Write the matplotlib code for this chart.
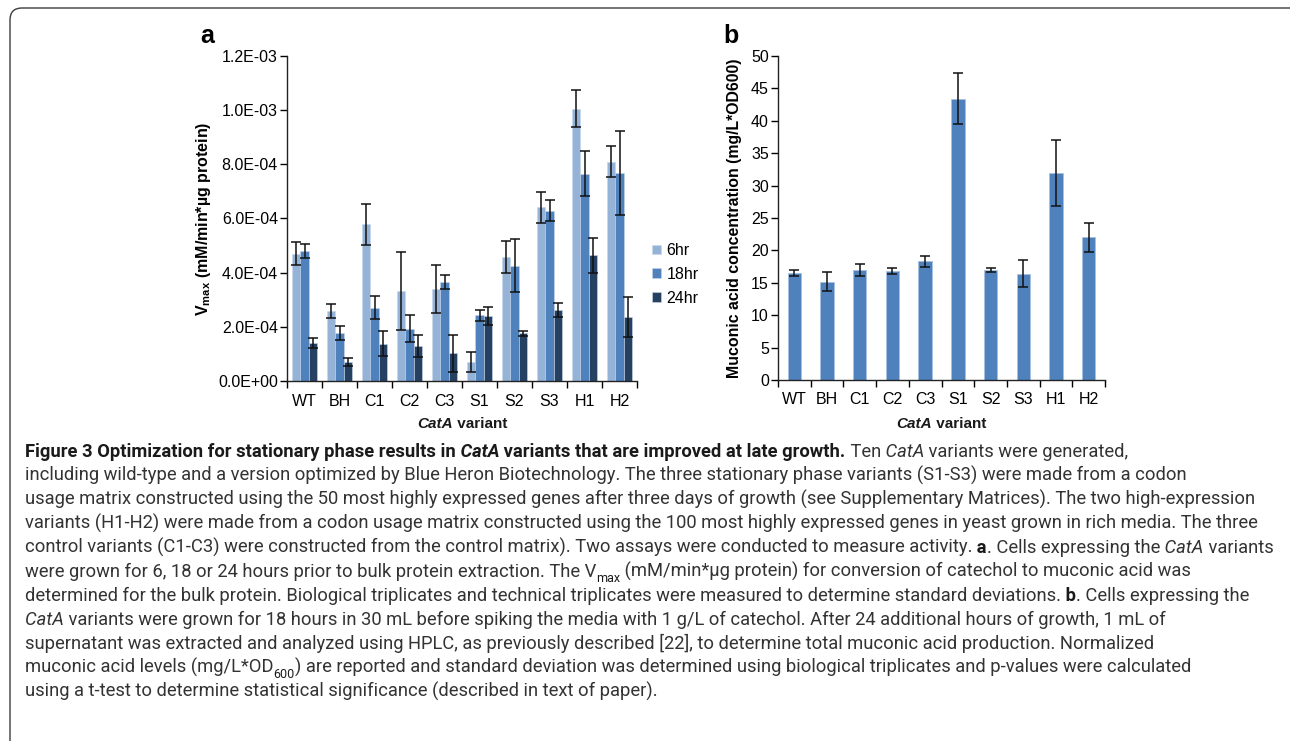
from __future__ import annotations

import matplotlib

matplotlib.use("Agg")
import matplotlib.pyplot as plt
import numpy as np
from matplotlib.font_manager import fontManager
from matplotlib.patches import FancyBboxPatch
from matplotlib.ticker import FixedLocator, FuncFormatter, MultipleLocator

W, H = 1290, 741

variants = ["WT", "BH", "C1", "C2", "C3", "S1", "S2", "S3", "H1", "H2"]
series = ["6hr", "18hr", "24hr"]
vmax_6hr = [4.70e-4, 2.58e-4, 5.78e-4, 3.31e-4, 3.41e-4, 0.70e-4, 4.57e-4, 6.41e-4, 10.06e-4, 8.10e-4]
err_6hr = [0.43e-4, 0.27e-4, 0.75e-4, 1.44e-4, 0.89e-4, 0.37e-4, 0.60e-4, 0.58e-4, 0.70e-4, 0.57e-4]
vmax_18hr = [4.80e-4, 1.77e-4, 2.71e-4, 1.93e-4, 3.66e-4, 2.42e-4, 4.25e-4, 6.29e-4, 7.66e-4, 7.68e-4]
err_18hr = [0.26e-4, 0.26e-4, 0.43e-4, 0.49e-4, 0.26e-4, 0.22e-4, 0.98e-4, 0.38e-4, 0.84e-4, 1.54e-4]
vmax_24hr = [1.40e-4, 0.69e-4, 1.38e-4, 1.28e-4, 1.03e-4, 2.39e-4, 1.76e-4, 2.61e-4, 4.64e-4, 2.36e-4]
err_24hr = [0.18e-4, 0.15e-4, 0.47e-4, 0.41e-4, 0.68e-4, 0.34e-4, 0.10e-4, 0.26e-4, 0.64e-4, 0.74e-4]
muconic = [16.5, 15.2, 17.0, 16.8, 18.3, 43.4, 17.0, 16.4, 31.9, 22.0]
muconic_err = [0.5, 1.5, 0.9, 0.5, 0.9, 3.9, 0.3, 2.1, 5.1, 2.3]

# caption, one list of (text, style) per printed line; spaces kept leading
caption = [
    [("Figure 3 Optimization for stationary phase results in", "b"), (" CatA", "bi"),
     (" variants that are improved at late growth.", "b"), (" Ten", "r"), (" CatA", "i"),
     (" variants were generated,", "r")],
    [("including wild-type and a version optimized by Blue Heron Biotechnology. The three stationary phase "
      "variants (S1-S3) were made from a codon", "r")],
    [("usage matrix constructed using the 50 most highly expressed genes after three days of growth (see "
      "Supplementary Matrices). The two high-expression", "r")],
    [("variants (H1-H2) were made from a codon usage matrix constructed using the 100 most highly expressed "
      "genes in yeast grown in rich media. The three", "r")],
    [("control variants (C1-C3) were constructed from the control matrix). Two assays were conducted to "
      "measure activity.", "r"), (" a", "b"), (". Cells expressing the", "r"), (" CatA", "i"), (" variants", "r")],
    [("were grown for 6, 18 or 24 hours prior to bulk protein extraction. The V", "r"), ("max", "sub"),
     (" (mM/min*\u00b5g protein) for conversion of catechol to muconic acid was", "r")],
    [("determined for the bulk protein. Biological triplicates and technical triplicates were measured to "
      "determine standard deviations.", "r"), (" b", "b"), (". Cells expressing the", "r")],
    [("CatA", "i"), (" variants were grown for 18 hours in 30 mL before spiking the media with 1 g/L of "
                     "catechol. After 24 additional hours of growth, 1 mL of", "r")],
    [("supernatant was extracted and analyzed using HPLC, as previously described [22], to determine total "
      "muconic acid production. Normalized", "r")],
    [("muconic acid levels (mg/L*OD", "r"), ("600", "sub"),
     (") are reported and standard deviation was determined using biological triplicates and p-values were "
      "calculated", "r")],
    [("using a t-test to determine statistical significance (described in text of paper).", "r")],
]

installed = {f.name for f in fontManager.ttflist}
chart_font = "Liberation Sans" if "Liberation Sans" in installed else "DejaVu Sans"
cap_font = next((f for f in ["Roboto", "Open Sans", "DejaVu Sans"] if f in installed))

plt.rcParams["font.family"] = chart_font
plt.rcParams["mathtext.default"] = "regular"

colors = ["#95b3d7", "#4f81bd", "#254061"]
STYLES = {"r": ("normal", "normal"), "b": ("bold", "normal"), "i": ("normal", "italic"),
          "bi": ("bold", "italic"), "sub": ("normal", "normal")}


def rich_line(fig, x, y, segments, size, family, color, ha="left", keep=True):
    """Draw mixed-style text on one baseline; x, y in pixels from top-left."""
    r = fig.canvas.get_renderer()
    arts = []
    for txt, st in segments:
        weight, style = STYLES[st]
        fs = size * 0.68 if st == "sub" else size
        c = "#1a1a1a" if "b" in st else color
        t = fig.text(0, 0, txt, fontsize=fs, fontweight=weight, fontstyle=style, family=family,
                     color=c, va="baseline", ha="left", transform=None)
        arts.append((t, st))
    widths = [t.get_window_extent(r).width for t, _ in arts]
    if not keep:
        for t, _ in arts:
            t.remove()
        return sum(widths)
    cx = x - sum(widths) / 2 if ha == "center" else x
    for (t, st), w in zip(arts, widths):
        dy = -0.28 * size * 100 / 72 if st == "sub" else 0
        t.set_position((cx, H - y + dy))
        cx += w
    return sum(widths)


fig = plt.figure(figsize=(W / 100, H / 100), dpi=100)

border = FancyBboxPatch((10, -40), 1320, H - 8 + 40, boxstyle="round,pad=0,rounding_size=12",
                        transform=None, fill=False, edgecolor="#3c3c3c", linewidth=1.0)
fig.add_artist(border)

ax_a = fig.add_axes([287 / W, 1 - 381 / H, 350 / W, 325 / H])
ax_b = fig.add_axes([778 / W, 1 - 380 / H, 327 / W, 324 / H])

x = np.arange(len(variants))
bw = 0.235
vals = [vmax_6hr, vmax_18hr, vmax_24hr]
errs = [err_6hr, err_18hr, err_24hr]
for k, (v, e) in enumerate(zip(vals, errs)):
    ax_a.bar(x + (k - 1) * bw, v, bw, color=colors[k], edgecolor="#c9d7ea", linewidth=0.4,
             label=series[k], zorder=2)
    ax_a.errorbar(x + (k - 1) * bw, v, yerr=e, fmt="none", ecolor="#111111", elinewidth=1.1,
                  capsize=3.3, capthick=1.1, zorder=3)

ax_b.bar(x, muconic, 0.41, color="#4f81bd", edgecolor="#a9c1e0", linewidth=0.6, zorder=2)
ax_b.errorbar(x, muconic, yerr=muconic_err, fmt="none", ecolor="#111111", elinewidth=1.1,
              capsize=3.6, capthick=1.1, zorder=3)

ax_a.set_ylim(0, 1.2e-3)
ax_a.yaxis.set_major_locator(MultipleLocator(2e-4))
ax_a.yaxis.set_major_formatter(FuncFormatter(lambda v, _: f"{v:.1E}"))
ax_b.set_ylim(0, 50)
ax_b.yaxis.set_major_locator(MultipleLocator(5))

for ax in (ax_a, ax_b):
    ax.set_xlim(-0.5, len(variants) - 0.5)
    ax.xaxis.set_major_locator(FixedLocator(np.arange(len(variants) + 1) - 0.5))
    ax.xaxis.set_major_formatter(FuncFormatter(lambda v, _: ""))
    ax.set_xticks(x, variants, minor=True)
    ax.tick_params(axis="x", which="minor", length=0, pad=9, labelsize=11.5)
    ax.tick_params(axis="x", which="major", length=5, width=1, direction="out")
    ax.tick_params(axis="y", length=5, width=1, direction="out", labelsize=11.5, pad=1.5)
    for s in ("top", "right"):
        ax.spines[s].set_visible(False)
    for s in ("left", "bottom"):
        ax.spines[s].set_linewidth(1.0)
        ax.spines[s].set_color("#222222")

ax_a.set_ylabel("V$_{max}$ (mM/min*\u00b5g protein)", fontsize=11.5, fontweight="bold")
ax_a.yaxis.set_label_coords((213 - 287) / 350, 0.5)
ax_b.set_ylabel("Muconic acid concentration (mg/L*OD600)", fontsize=11.4, fontweight="bold")
ax_b.yaxis.set_label_coords((742 - 778) / 327, 0.5)

ax_a.legend(loc="upper left", bbox_to_anchor=(652 / W, 1 - 243 / H), bbox_transform=fig.transFigure,
            frameon=False, fontsize=11.5, handlelength=0.55, handleheight=0.55, handletextpad=0.35,
            labelspacing=0.55, borderaxespad=0, borderpad=0)

fig.text(207 / W, 1 - 36 / H, "a", fontsize=18, fontweight="bold", ha="center", va="center")
fig.text(731 / W, 1 - 36 / H, "b", fontsize=18, fontweight="bold", ha="center", va="center")

# axis titles
rich_line(fig, 462, 428, [("CatA", "bi"), (" variant", "b")], 11, chart_font, "#111111", ha="center")
rich_line(fig, 941, 428, [("CatA", "bi"), (" variant", "b")], 11, chart_font, "#111111", ha="center")

# caption: fit the font size so the widest line spans the reference text width
widest = max(rich_line(fig, 0, 0, line, 10, cap_font, "#333333", keep=False) for line in caption)
cap_size = 10 * 1245 / widest
for i, line in enumerate(caption):
    rich_line(fig, 25, 457 + 24 * i, line, cap_size, cap_font, "#333333")

fig.savefig("out.png", dpi=100)
